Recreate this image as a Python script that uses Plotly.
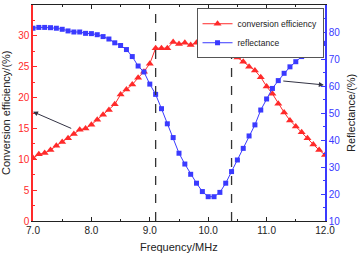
import plotly.graph_objects as go

freq = [round(7.0 + 0.1 * i, 1) for i in range(51)]
conversion_efficiency = [
    10.2, 10.8, 11.0, 11.5, 12.2, 12.8, 13.4, 14.1, 14.8, 15.0,
    15.6, 16.4, 17.2, 18.0, 18.9, 20.5, 21.3, 22.1, 23.2, 24.2,
    25.5, 28.0, 28.0, 28.0, 29.0, 28.7, 28.9, 28.5, 28.9, 29.1,
    29.0, 29.0, 28.8, 28.1, 27.4, 26.5, 25.8, 25.0, 24.4, 23.3,
    21.8, 20.6, 19.0, 17.6, 16.3, 15.3, 14.4, 13.4, 12.4, 11.5,
    10.7,
]
reflectance = [
    81.4, 81.7, 81.7, 81.6, 81.4, 81.0, 80.4, 80.0, 80.0, 79.5,
    79.4, 79.0, 78.3, 77.4, 76.0, 75.0, 73.5, 70.9, 67.4, 65.2,
    60.7, 56.9, 51.6, 46.0, 40.9, 35.1, 31.1, 27.3, 24.0, 20.9,
    19.0, 19.0, 20.6, 24.0, 28.3, 32.6, 36.9, 41.5, 45.6, 51.1,
    55.2, 59.1, 62.0, 64.7, 67.1, 69.0, 70.9, 72.1, 73.6, 74.8,
    75.8,
]
dashed_freqs = [9.1, 10.4]
x_ticks = [7.0, 8.0, 9.0, 10.0, 11.0, 12.0]

RED = "#ff2a2a"
BLUE = "#3a3aff"
DARK = "#222222"
FONT = "Liberation Sans, Arial, sans-serif"

fig = go.Figure()
fig.add_trace(go.Scatter(
    x=freq, y=conversion_efficiency, name="conversion efficiency",
    mode="lines+markers", line=dict(color=RED, width=1),
    marker=dict(symbol="triangle-up", size=7, color=RED), yaxis="y",
))
fig.add_trace(go.Scatter(
    x=freq, y=reflectance, name="reflectance",
    mode="lines+markers", line=dict(color=BLUE, width=1),
    marker=dict(symbol="square", size=5, color=BLUE), yaxis="y2",
))

for xv in dashed_freqs:
    fig.add_shape(type="line", x0=xv, x1=xv, xref="x", y0=0, y1=1, yref="paper",
                  line=dict(color="#333333", width=1.3, dash="dash"))

fig.add_annotation(x=7.0, y=17.7, xref="x", yref="y", ax=7.68, ay=14.9,
                   axref="x", ayref="y", showarrow=True, arrowhead=2,
                   arrowsize=1, arrowwidth=1, arrowcolor="#333344", text="")
fig.add_annotation(x=11.98, y=60.4, xref="x", yref="y2", ax=11.26, ay=61.9,
                   axref="x", ayref="y2", showarrow=True, arrowhead=2,
                   arrowsize=1, arrowwidth=1, arrowcolor="#333344", text="")

# axis titles as annotations for precise placement
fig.add_annotation(text="Frequency/MHz", xref="paper", yref="paper",
                   x=0.5, y=0, xanchor="center", yanchor="middle", yshift=-26,
                   showarrow=False, font=dict(size=11, color=DARK))
fig.add_annotation(text="Conversion efficiency/(%)", xref="paper", yref="paper",
                   x=0, y=0.5, xanchor="center", yanchor="middle", xshift=-27,
                   textangle=-90, showarrow=False, font=dict(size=11, color=DARK))
fig.add_annotation(text="Reflectance/(%)", xref="paper", yref="paper",
                   x=1, y=0.5, xanchor="center", yanchor="middle", xshift=26,
                   textangle=-90, showarrow=False, font=dict(size=11, color=DARK))

fig.update_layout(
    width=358, height=255,
    margin=dict(l=33, r=33, t=5, b=34, autoexpand=False),
    paper_bgcolor="white", plot_bgcolor="white",
    font=dict(family=FONT, size=10, color=DARK),
    showlegend=True,
    legend=dict(x=0.995, y=0.985, xanchor="right", yanchor="top",
                bgcolor="white", bordercolor="#555555", borderwidth=1,
                font=dict(size=8.5, color=DARK), tracegroupgap=0,
                itemwidth=30),
    xaxis=dict(
        range=[7.0, 12.0], tickvals=x_ticks, automargin=False,
        ticktext=[f"{v:.1f}" for v in x_ticks],
        showline=True, linecolor=DARK, linewidth=1, mirror="ticks",
        ticks="inside", ticklen=4, tickcolor=DARK,
        minor=dict(dtick=0.5, ticks="inside", ticklen=2, tickcolor=DARK),
        showgrid=False, zeroline=False,
        tickfont=dict(size=10, color=DARK),
    ),
    yaxis=dict(
        range=[0, 35], dtick=5, automargin=False,
        showline=True, linecolor=RED, linewidth=1.5,
        ticks="inside", ticklen=4, tickcolor=RED,
        minor=dict(dtick=2.5, ticks="inside", ticklen=2, tickcolor=RED),
        showgrid=False, zeroline=False,
        tickfont=dict(size=10, color=RED),
    ),
    yaxis2=dict(
        range=[10, 90], dtick=10, overlaying="y", side="right", automargin=False,
        showline=True, linecolor=BLUE, linewidth=1.5,
        ticks="inside", ticklen=4, tickcolor=BLUE,
        minor=dict(dtick=5, ticks="inside", ticklen=2, tickcolor=BLUE),
        showgrid=False, zeroline=False,
        tickfont=dict(size=10, color=BLUE),
    ),
)

fig.write_html(
    "out.html",
    config={"displayModeBar": False},
    post_script="document.body.style.margin='0';document.body.style.overflow='hidden';",
)
